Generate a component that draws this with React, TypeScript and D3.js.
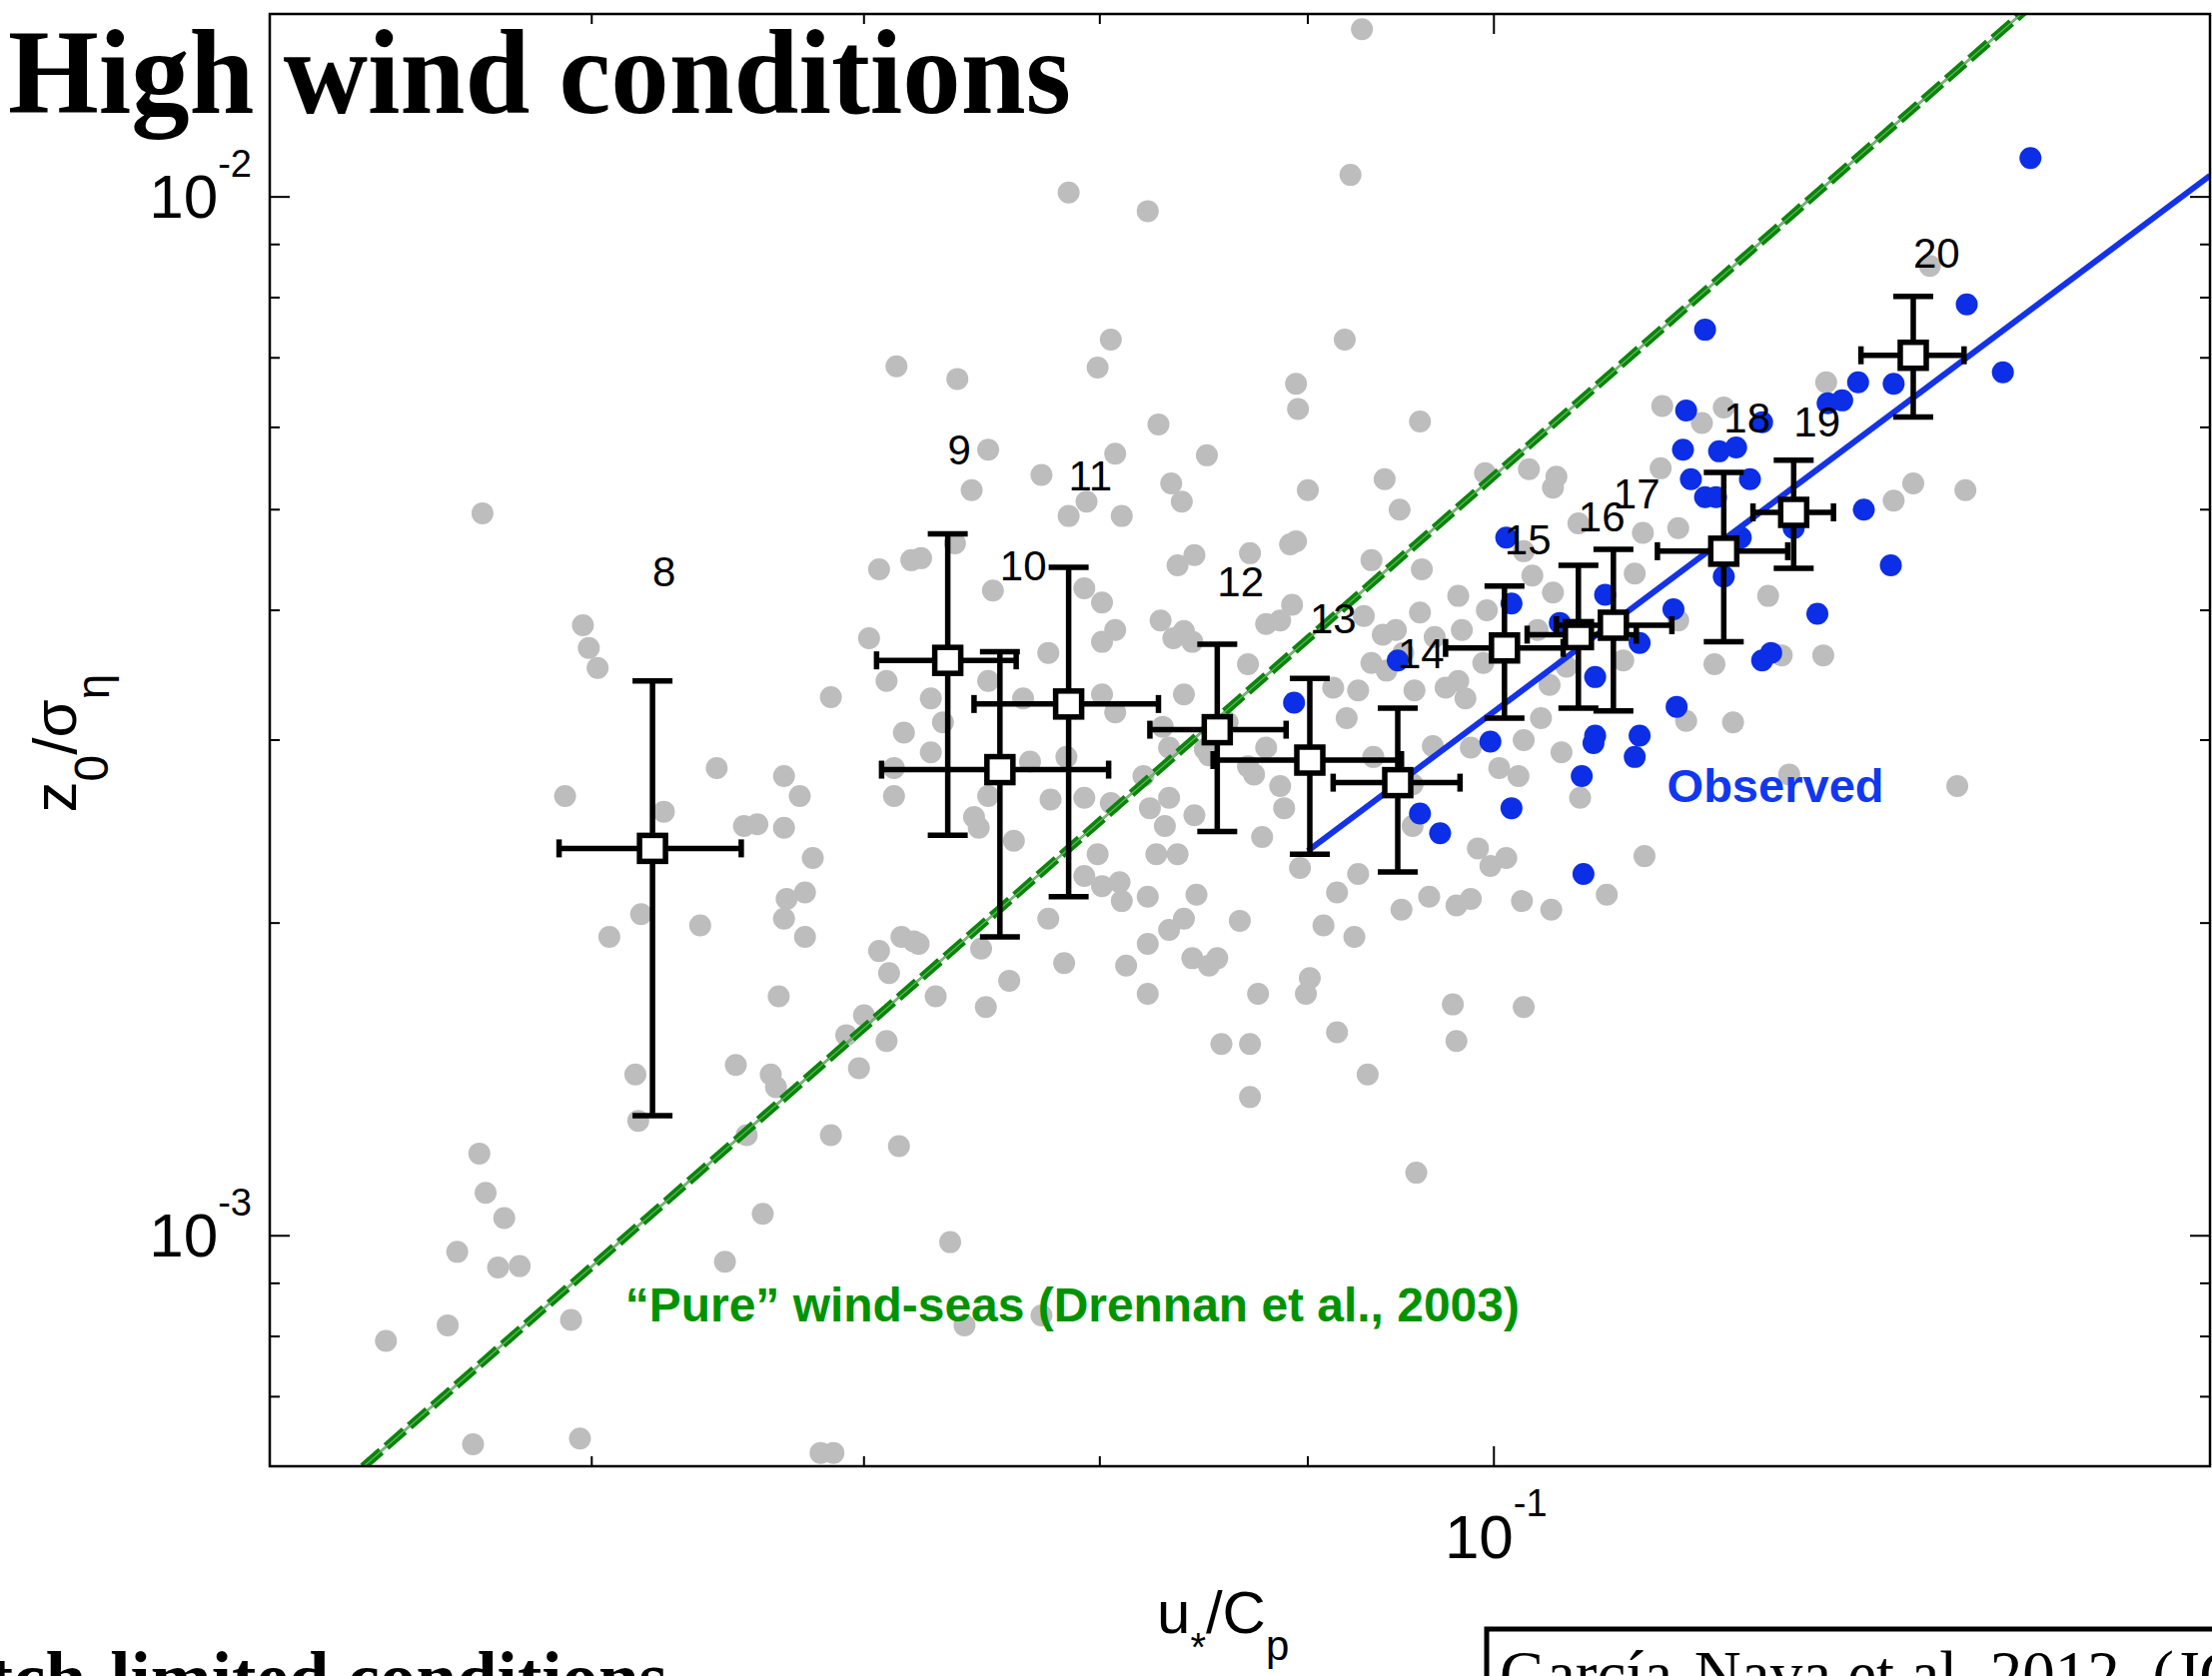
import React from 'react';
import * as d3 from 'd3';

// ---- data: u*/Cp and z0/sigma_eta ----
const grayPoints: [number, number][] = [
  [0.0928,0.0145],[0.0922,0.0105],[0.0786,0.0101],[0.0822,0.00969],[0.0805,0.00729],[0.0919,0.00729],[0.0713,0.00687],[0.0738,0.00668],
  [0.0799,0.00685],[0.0894,0.00661],[0.0895,0.00625],[0.0959,0.00608],[0.0827,0.00604],[0.128,0.00858],[0.0751,0.00571],[0.0850,0.00564],
  [0.0807,0.00566],[0.0774,0.0054],[0.0744,0.00522],[0.0833,0.0053],[0.0838,0.00509],[0.0900,0.00522],[0.0940,0.00535],[0.0948,0.005],
  [0.0995,0.00542],[0.102,0.00547],[0.1036,0.00538],[0.1034,0.00525],[0.0794,0.00509],[0.0786,0.00493],[0.0810,0.00493],[0.0564,0.00496],
  [0.0719,0.00447],[0.0706,0.00438],[0.0723,0.00449],[0.0737,0.00464],[0.0753,0.00418],[0.0894,0.00466],[0.0933,0.00447],[0.0960,0.00438],
  [0.1022,0.00432],[0.1017,0.00456],[0.0844,0.00452],[0.0836,0.00442],[0.0871,0.00454],[0.0891,0.00463],[0.0793,0.0042],[0.0801,0.00407],
  [0.0828,0.00391],[0.0834,0.00376],[0.0839,0.00382],[0.0843,0.00373],[0.0807,0.00383],[0.0801,0.00373],[0.0777,0.00364],[0.0886,0.00391],
  [0.0892,0.00405],[0.0929,0.00395],[0.0946,0.00383],[0.0959,0.00398],[0.0980,0.00413],[0.0996,0.004],[0.1034,0.00416],[0.0870,0.00355],
  [0.0941,0.0035],[0.0956,0.00335],[0.0973,0.00337],[0.0980,0.00342],[0.0920,0.00315],[0.1027,0.00315],[0.0839,0.00332],[0.0829,0.00309],
  [0.0801,0.00332],[0.0727,0.00329],[0.0766,0.00329],[0.0751,0.00342],[0.0702,0.00376],[0.0709,0.00342],[0.0687,0.0033],[0.0597,0.00387],
  [0.0599,0.00368],[0.0602,0.00352],[0.1100,0.00629],[0.1125,0.00606],[0.1139,0.00627],[0.1207,0.00663],[0.1099,0.00548],[0.1268,0.0053],
  [0.1254,0.0051],[0.1306,0.00522],[0.1049,0.00485],[0.1088,0.00475],[0.1110,0.0048],[0.1083,0.00434],[0.1110,0.00391],[0.1168,0.00413],
  [0.1205,0.00362],[0.1177,0.00362],[0.1133,0.00355],[0.1076,0.00358],[0.1115,0.00313],[0.1145,0.00312],[0.1050,0.00264],[0.1182,0.00278],
  [0.1300,0.00271],[0.1089,0.00232],[0.1066,0.00213],
  [0.0625,0.00256],[0.0644,0.00282],[0.0669,0.00277],[0.0675,0.00265],[0.0654,0.00248],[0.0659,0.00249],[0.0669,0.00247],[0.0680,0.00231],
  [0.0677,0.00214],[0.0670,0.00211],[0.0669,0.00202],[0.0677,0.00194],[0.0638,0.00199],[0.0617,0.00204],[0.0606,0.00194],[0.0712,0.00265],
  [0.0715,0.00194],[0.0720,0.00192],[0.0706,0.00188],[0.0710,0.00179],[0.0667,0.0017],[0.0700,0.00163],[0.0693,0.00156],[0.0709,0.00154],
  [0.0698,0.00145],[0.0651,0.00146],[0.0664,0.00143],[0.0666,0.00139],[0.0615,0.00143],[0.0616,0.00129],[0.0655,0.00125],[0.0687,0.00125],
  [0.0714,0.00122],[0.0563,0.0012],[0.0565,0.0011],[0.0571,0.00104],[0.0556,0.000965],[0.0569,0.000932],[0.0576,0.000935],[0.0661,0.00105],
  [0.0647,0.000944],[0.0553,0.00082],[0.0534,0.000792],[0.0593,0.00083],[0.0561,0.00063],[0.0596,0.000638],[0.0683,0.000618],[0.0688,0.000618],
  [0.0591,0.00265],[0.0727,0.00292],[0.0751,0.00265],[0.0745,0.00253],[0.0747,0.00247],[0.0762,0.0024],[0.0722,0.00191],[0.0748,0.00189],
  [0.0729,0.0017],[0.0760,0.00176],[0.0750,0.00166],[0.0777,0.00202],[0.0778,0.00263],[0.0784,0.00183],[0.0793,0.00264],[0.0805,0.00261],
  [0.0799,0.00233],[0.0793,0.00222],[0.0801,0.00217],[0.0809,0.00219],[0.0810,0.0021],[0.0812,0.00182],[0.0822,0.00212],[0.0822,0.00191],
  [0.0822,0.00171],[0.0823,0.00258],[0.0830,0.00248],[0.0826,0.00233],[0.0836,0.00233],[0.0832,0.00197],[0.0839,0.00202],[0.0832,0.00264],
  [0.0845,0.00213],[0.0844,0.00254],[0.0843,0.00185],[0.0851,0.00182],[0.0855,0.00185],[0.0857,0.00153],[0.0871,0.00153],[0.0871,0.00136],
  [0.0866,0.00201],[0.0849,0.00294],[0.0873,0.00278],[0.0886,0.00271],[0.0888,0.00258],[0.0877,0.00242],[0.0875,0.00171],[0.0901,0.00177],
  [0.0899,0.00171],[0.0896,0.00226],[0.0908,0.00199],[0.0915,0.00214],[0.0924,0.00194],[0.0926,0.00223],[0.0915,0.00157],[0.0931,0.00143],
  [0.0957,0.00115],[0.0949,0.00206],[0.0964,0.00212],[0.0979,0.00208],[0.0987,0.00211],[0.0991,0.00236],[0.0998,0.00227],[0.1007,0.00231],
  [0.1016,0.0021],[0.1033,0.00206],[0.1014,0.00277],[0.1039,0.00292],[0.0977,0.00167],[0.0979,0.00154],[0.1017,0.00166],[0.0955,0.00248],
  [0.0735,0.000986],[0.0741,0.00082],[0.0774,0.000838],
  [0.0913,0.00337],[0.0926,0.00335],[0.0939,0.00379],[0.0950,0.00364],[0.0967,0.00377],[0.0982,0.00383],[0.0984,0.00329],[0.0994,0.00356],
  [0.1025,0.00383],[0.1032,0.00339],[0.1042,0.00353],[0.0933,0.00356],[0.0879,0.00388],[0.0785,0.00289],[0.0832,0.00295],[0.0851,0.0029],
  [0.0870,0.00283],[0.0879,0.00295],[0.0934,0.00289],[0.0955,0.00272],[0.0987,0.00295],[0.0716,0.00305],[0.0712,0.00282],[0.0732,0.00312],
  [0.0769,0.00286],[0.0807,0.00319],[0.0820,0.00277],[0.0860,0.00312],[0.0966,0.00296],[0.1003,0.00282],[0.1017,0.003],
];

const bluePoints: [number, number][] = [
  [0.1355,0.0109],[0.1127,0.00745],[0.1307,0.00788],[0.1229,0.00663],[0.1254,0.00661],[0.1334,0.00678],[0.1208,0.00633],[0.1218,0.00637],
  [0.1115,0.00623],[0.1164,0.00607],[0.1113,0.00571],[0.1136,0.00569],[0.1147,0.00574],[0.1118,0.00535],[0.1156,0.00535],[0.1127,0.00514],
  [0.1134,0.00514],[0.1233,0.005],[0.1185,0.0048],[0.1150,0.0047],[0.1139,0.00431],[0.1252,0.00442],[0.1201,0.00397],[0.1107,0.00401],
  [0.1065,0.00414],[0.1086,0.00372],[0.1164,0.00358],[0.1170,0.00364],[0.1059,0.00345],[0.1109,0.00323],[0.1059,0.00303],[0.1086,0.00303],
  [0.1051,0.00277],[0.1058,0.00298],[0.1083,0.00289],[0.1052,0.00223],[0.0959,0.00255],[0.0970,0.00244],[0.1010,0.00258],[0.0998,0.00299],
  [0.0893,0.00326],[0.0947,0.00358],[0.1007,0.0047],[0.1010,0.00406],[0.1038,0.00389],
];

// bin-averaged values (wind speed classes)
const binLabels = ['8','9','10','11','12','13','14','15','16','17','18','19','20'];
const binU   = [0.0621,0.0734,0.0756,0.0786,0.0855,0.0901,0.0947,0.1006,0.1049,0.1070,0.1139,0.1185,0.1268];
const binULo = [0.0589,0.0705,0.0707,0.0745,0.0823,0.0853,0.0913,0.0973,0.1019,0.1036,0.1097,0.1158,0.1231];
const binUHi = [0.0653,0.0763,0.0804,0.0827,0.0889,0.0949,0.0981,0.1040,0.1084,0.1106,0.1181,0.1212,0.1305];
const binZ   = [0.00236,0.00358,0.00281,0.00325,0.00307,0.00287,0.00273,0.00368,0.00379,0.00387,0.00456,0.00497,0.00704];
const binZLo = [0.001305,0.00243,0.00194,0.00212,0.00245,0.00233,0.00224,0.00315,0.00322,0.0032,0.00373,0.00439,0.00614];
const binZHi = [0.00342,0.00474,0.00365,0.0044,0.00371,0.00344,0.00322,0.00422,0.00442,0.00458,0.00543,0.00558,0.00802];
const binLabelZ = [0.00436,0.00572,0.00442,0.0054,0.00427,0.00393,0.00364,0.00468,0.00493,0.00518,0.00614,0.00608,0.00884];

// ticks
const xMajorTicks = [0.1];
const xMinorTicks = [0.06, 0.07, 0.08, 0.09];
const yMajorTicks = [0.001, 0.01];
const yMinorTicks = [0.0007, 0.0008, 0.0009, 0.002, 0.003, 0.004, 0.005, 0.006, 0.007, 0.008, 0.009];
const xTickLabels = [{ v: 0.1, base: '10', exp: '-1' }];
const yTickLabels = [{ v: 0.01, base: '10', exp: '-2' }, { v: 0.001, base: '10', exp: '-3' }];

// power-law fits z0/sigma = coef * (u*/Cp)^exp
const drennanFit = { coef: 14.5, exp: 3.43, uMin: 0.05, uMax: 0.15 };
const observedFit = { coef: 2.72, exp: 2.93, uMin: 0.09, uMax: 0.15 };

// annotation anchors (data units)
const pureLabelAt = { u: 0.06115, z: 0.000827 };
const observedLabelAt = { u: 0.1103, z: 0.002615 };

export default function App() {
  const W = 2214, H = 1678;
  const left = 270, right = 2212, top = 14, bottom = 1468;
  const x = d3.scaleLog().domain([0.05, 0.15]).range([left, right]);
  const y = d3.scaleLog().domain([0.0006, 0.015]).range([bottom, top]);

  const fitPath = (f: { coef: number; exp: number; uMin: number; uMax: number }) =>
    d3.line<number>().x((u) => x(u)).y((u) => y(f.coef * Math.pow(u, f.exp)))([f.uMin, f.uMax]) || '';

  const sans = "'Liberation Sans', Arial, Helvetica, sans-serif";
  const serif = "'Liberation Serif', 'Times New Roman', serif";
  const majLen = 20, minLen = 10;
  const grayCol = '#bdbdbd';
  const blueCol = '#0b2ee6';

  const tickLines: JSX.Element[] = [];
  const addX = (v: number, len: number, k: string) => {
    tickLines.push(<line key={'xb' + k} x1={x(v)} x2={x(v)} y1={bottom} y2={bottom - len} />);
    tickLines.push(<line key={'xt' + k} x1={x(v)} x2={x(v)} y1={top} y2={top + len} />);
  };
  const addY = (v: number, len: number, k: string) => {
    tickLines.push(<line key={'yl' + k} x1={left} x2={left + len} y1={y(v)} y2={y(v)} />);
    tickLines.push(<line key={'yr' + k} x1={right} x2={right - len} y1={y(v)} y2={y(v)} />);
  };
  xMajorTicks.forEach((v, i) => addX(v, majLen, 'M' + i));
  xMinorTicks.forEach((v, i) => addX(v, minLen, 'm' + i));
  yMajorTicks.forEach((v, i) => addY(v, majLen, 'M' + i));
  yMinorTicks.forEach((v, i) => addY(v, minLen, 'm' + i));

  const ebW = 5.5, vCap = 20, hCap = 9, sq = 26;

  return (
    <svg width={W} height={H} viewBox={`0 0 ${W} ${H}`} style={{ position: 'absolute', left: 0, top: 0, background: '#fff' }}>
      <defs>
        <clipPath id="plotClip">
          <rect x={left} y={top} width={right - left} height={bottom - top} />
        </clipPath>
      </defs>
      <rect x={0} y={0} width={W} height={H} fill="#fff" />

      <g clipPath="url(#plotClip)">
        {grayPoints.map((p, i) => (
          <circle key={'g' + i} cx={x(p[0])} cy={y(p[1])} r={11} fill={grayCol} />
        ))}
        {bluePoints.map((p, i) => (
          <circle key={'b' + i} cx={x(p[0])} cy={y(p[1])} r={11} fill={blueCol} />
        ))}
        {/* Drennan et al. 2003 line */}
        <path d={fitPath(drennanFit)} fill="none" stroke="#4f984f" strokeWidth={2.5} />
        <path d={fitPath(drennanFit)} fill="none" stroke="#0a850a" strokeWidth={8.5} strokeDasharray="24 7" />
        <path d={fitPath(drennanFit)} fill="none" stroke="rgba(220,240,220,0.45)" strokeWidth={1.2} />
        {/* observed fit */}
        <path d={fitPath(observedFit)} fill="none" stroke="#1433e8" strokeWidth={6} />
      </g>

      {/* bin averages with error bars */}
      <g stroke="#000" strokeWidth={ebW} fill="none">
        {binU.map((u, i) => {
          const cx = x(u), cy = y(binZ[i]);
          const yl = y(binZLo[i]), yh = y(binZHi[i]);
          const xl = x(binULo[i]), xh = x(binUHi[i]);
          return (
            <g key={'bin' + i}>
              <line x1={cx} x2={cx} y1={yh} y2={yl} />
              <line x1={cx - vCap} x2={cx + vCap} y1={yh} y2={yh} />
              <line x1={cx - vCap} x2={cx + vCap} y1={yl} y2={yl} />
              <line x1={xl} x2={xh} y1={cy} y2={cy} />
              <line x1={xl} x2={xl} y1={cy - hCap} y2={cy + hCap} />
              <line x1={xh} x2={xh} y1={cy - hCap} y2={cy + hCap} />
              <rect x={cx - sq / 2} y={cy - sq / 2} width={sq} height={sq} fill="#fff" />
            </g>
          );
        })}
      </g>
      <g fontFamily={sans} fontSize={42} fill="#000">
        {binLabels.map((t, i) => (
          <text key={'lab' + i} x={x(binU[i])} y={y(binLabelZ[i])} dy="0.36em">{t}</text>
        ))}
      </g>

      {/* annotations */}
      <text x={x(pureLabelAt.u)} y={y(pureLabelAt.z)} fontFamily={sans} fontWeight="bold" fontSize={48}
        fill="#009300" textLength={895} lengthAdjust="spacingAndGlyphs">“Pure” wind-seas (Drennan et al., 2003)</text>
      <text x={x(observedLabelAt.u)} y={y(observedLabelAt.z)} fontFamily={sans} fontWeight="bold" fontSize={47}
        fill="#1038f0" textLength={217} lengthAdjust="spacingAndGlyphs">Observed</text>

      {/* axes box and ticks */}
      <g stroke="#000" strokeWidth={2}>{tickLines}</g>
      <rect x={left} y={top} width={right - left} height={bottom - top} fill="none" stroke="#000" strokeWidth={2.5} />

      {/* tick labels */}
      <g fontFamily={sans} fill="#000">
        {yTickLabels.map((t, i) => (
          <text key={'yt' + i} x={252} y={y(t.v) + 21} textAnchor="end" fontSize={62}>
            <tspan>{t.base}</tspan>
            <tspan dy={-41} fontSize={38}>{t.exp}</tspan>
          </text>
        ))}
        {xTickLabels.map((t, i) => (
          <text key={'xt' + i} x={x(t.v) + 2} y={1560} textAnchor="middle" fontSize={62}>
            <tspan>{t.base}</tspan>
            <tspan dy={-42} fontSize={38}>{t.exp}</tspan>
          </text>
        ))}
      </g>

      {/* axis labels */}
      <text x={1158} y={1635} fontFamily={sans} fontSize={60} fill="#000">
        <tspan>u</tspan>
        <tspan dy={28} fontSize={40}>*</tspan>
        <tspan dy={-28}>/C</tspan>
        <tspan dy={27} fontSize={42}>p</tspan>
      </text>
      <g transform="translate(76,744) rotate(-90)">
        <text x={0} y={0} textAnchor="middle" fontFamily={sans} fontSize={62} fill="#000">
          <tspan>z</tspan>
          <tspan dy={32} fontSize={48}>0</tspan>
          <tspan dy={-32}>/σ</tspan>
          <tspan dy={33} fontSize={46}>η</tspan>
        </text>
      </g>

      {/* slide texts */}
      <text x={8} y={113} fontFamily={serif} fontWeight="bold" fontSize={121} fill="#000"
        textLength={1064} lengthAdjust="spacingAndGlyphs">High wind conditions</text>
      <text x={668} y={1705} textAnchor="end" fontFamily={serif} fontWeight="bold" fontSize={73} fill="#000">Fetch-limited conditions</text>
      <rect x={1488} y={1631} width={900} height={200} fill="#fff" stroke="#000" strokeWidth={5} />
      <text x={1501} y={1698} fontFamily={serif} fontSize={65} fill="#000">García-Nava et al. 2012, (JGR)</text>
    </svg>
  );
}
